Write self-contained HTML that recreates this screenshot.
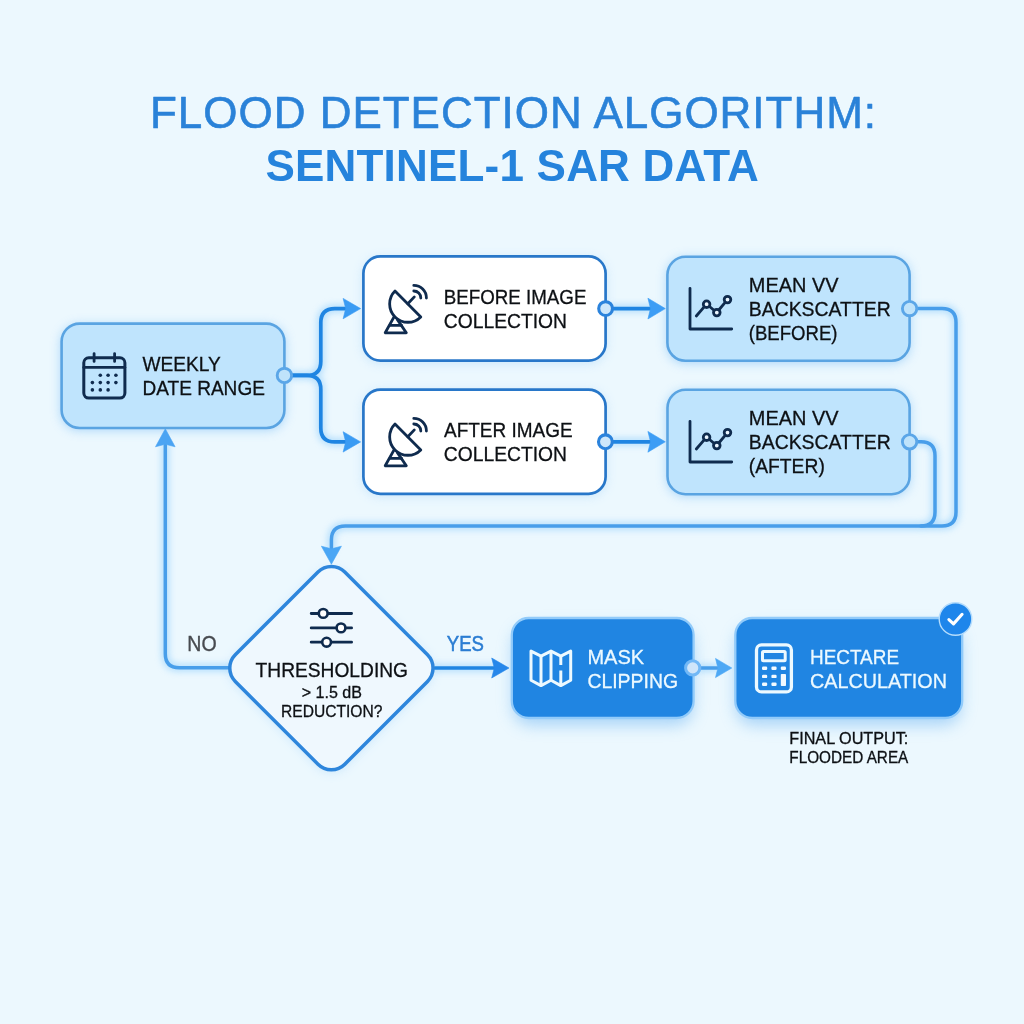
<!DOCTYPE html>
<html lang="en">
<head>
<meta charset="utf-8">
<title>Flood Detection Algorithm: Sentinel-1 SAR Data</title>
<style>
  html, body { margin: 0; padding: 0; }
  body { width: 1024px; height: 1024px; overflow: hidden; background: #ecf8fe;
         font-family: "Liberation Sans", sans-serif; }
  svg { display: block; position: absolute; left: 0; top: 0; }
  text { font-family: "Liberation Sans", sans-serif; }
  .t1 { font-size: 44px; fill: #2a82d8; stroke: #2a82d8; stroke-width: 0.6px; stroke-linejoin: round; }
  .t2 { font-size: 44px; font-weight: 700; fill: #2583dc; }
  .lbl { font-size: 20.6px; fill: #0d1014; stroke: #0d1014; stroke-width: 0.3px; }
  .lblw { font-size: 20.6px; fill: #ecf9ff; stroke: #ecf9ff; stroke-width: 0.3px; }
  .sm { font-size: 16px; fill: #0d1014; stroke: #0d1014; stroke-width: 0.3px; }
  .ico { fill: none; stroke: #0f2b4e; stroke-width: 2.8; stroke-linecap: round; stroke-linejoin: round; }
  .icow { fill: none; stroke: #ecf9ff; stroke-width: 3; stroke-linecap: round; stroke-linejoin: round; }
  .ln { fill: none; stroke: #1f85e2; stroke-width: 3.7; stroke-linecap: round; stroke-linejoin: round; }
  .ln2 { fill: none; stroke: #489eea; stroke-width: 3.5; stroke-linecap: round; stroke-linejoin: round; }
</style>
</head>
<body>
<svg width="1024" height="1024" viewBox="0 0 1024 1024">
  <defs>
    <filter id="glow" x="-20%" y="-20%" width="140%" height="140%">
      <feGaussianBlur stdDeviation="5.5"/>
      <feOffset dy="2"/>
    </filter>
    <filter id="glow3" x="-20%" y="-40%" width="140%" height="200%">
      <feGaussianBlur stdDeviation="8"/>
      <feOffset dy="7"/>
    </filter>
    <filter id="glow2" x="-20%" y="-20%" width="140%" height="140%" filterUnits="userSpaceOnUse">
      <feGaussianBlur stdDeviation="3.5"/>
    </filter>
  </defs>
  <rect width="1024" height="1024" fill="#ecf8fe"/>

  <!-- TITLE -->
  <g opacity="0.999">
  <text class="t1" x="150" y="127.5" textLength="726" lengthAdjust="spacing">FLOOD DETECTION ALGORITHM:</text>
  <text class="t2" x="265.4" y="181" textLength="493.4" lengthAdjust="spacing">SENTINEL-1 SAR DATA</text>
  </g>

  <!-- GLOWS -->
  <g filter="url(#glow)" opacity="0.75">
    <rect x="61" y="323" width="224" height="105" rx="18" fill="#8cc6f7"/>
    <rect x="667" y="256" width="243" height="105" rx="18" fill="#8cc6f7"/>
    <rect x="667" y="389" width="243" height="105" rx="18" fill="#8cc6f7"/>
  </g>
  <g filter="url(#glow)" opacity="0.38">
    <rect x="363" y="256" width="243" height="105" rx="17" fill="#8cc6f7"/>
    <rect x="363" y="389" width="243" height="105" rx="17" fill="#8cc6f7"/>
    <path d="M318.0 572.0 A19 19 0 0 1 344.8 572.0 L427.5 654.7 A19 19 0 0 1 427.5 681.5 L344.8 764.2 A19 19 0 0 1 318.0 764.2 L235.3 681.5 A19 19 0 0 1 235.3 654.7 Z" fill="#8cc6f7"/>
  </g>
  <g filter="url(#glow3)" opacity="0.55">
    <rect x="513" y="620" width="180" height="98" rx="18" fill="#6cb4f3"/>
    <rect x="736" y="620" width="225" height="98" rx="18" fill="#6cb4f3"/>
  </g>
  <g filter="url(#glow2)" opacity="0.55" fill="none" stroke="#7cc4fb" stroke-width="7" stroke-linecap="round" stroke-linejoin="round">
    <path d="M292 375.4 H306.8 Q320.8 375.4 320.8 361.4 V322.6 Q320.8 308.6 334.8 308.6 H346"/>
    <path d="M292 375.4 H306.8 Q320.8 375.4 320.8 389.4 V427.9 Q320.8 441.9 334.8 441.9 H346"/>
    <path d="M613 308.6 H651"/>
    <path d="M613 441.8 H651"/>
    <path d="M917 308.6 H942 Q956 308.6 956 322.6 V512.1 Q956 526.1 942 526.1 H345.4 Q331.4 526.1 331.4 540.1 V549"/>
    <path d="M917 441.8 H921 Q935 441.8 935 455.8 V512.1 Q935 526.1 921 526.1"/>
    <path d="M229.5 667.7 H179.3 Q165.3 667.7 165.3 653.7 V445"/>
    <path d="M435 668 H494"/>
    <path d="M700 668 H717"/>
  </g>

  <!-- CONNECTORS -->
  <path class="ln" d="M292 375.4 H306.8 Q320.8 375.4 320.8 361.4 V322.6 Q320.8 308.6 334.8 308.6 H346"/>
  <path class="ln" d="M292 375.4 H306.8 Q320.8 375.4 320.8 389.4 V427.9 Q320.8 441.9 334.8 441.9 H346"/>
  <path d="M343.1 298.4 L360.6 308.6 L343.1 318.8 L345.7 308.6 Z" fill="#3a9bf3" stroke="#3a9bf3" stroke-width="0.6" stroke-linejoin="round"/>
  <path d="M343.1 431.7 L360.6 441.9 L343.1 452.1 L345.7 441.9 Z" fill="#3a9bf3" stroke="#3a9bf3" stroke-width="0.6" stroke-linejoin="round"/>

  <path class="ln" d="M613 308.6 H651" stroke="#3a93e9"/>
  <path class="ln" d="M613 441.8 H651" stroke="#3a93e9"/>
  <path d="M647.9 298.2 L665.3 308.6 L647.9 319 L650.5 308.6 Z" fill="#3d9df5" stroke="#3d9df5" stroke-width="0.6" stroke-linejoin="round"/>
  <path d="M647.9 431.4 L665.3 441.8 L647.9 452.2 L650.5 441.8 Z" fill="#3d9df5" stroke="#3d9df5" stroke-width="0.6" stroke-linejoin="round"/>

  <path class="ln2" d="M917 308.6 H942 Q956 308.6 956 322.6 V512.1 Q956 526.1 942 526.1 H345.4 Q331.4 526.1 331.4 540.1 V549"/>
  <path class="ln2" d="M917 441.8 H921 Q935 441.8 935 455.8 V512.1 Q935 526.1 921 526.1"/>
  <path d="M321.4 546.2 L331.4 564.2 L341.4 546.2 L331.4 548.8 Z" fill="#4aa6f5" stroke="#4aa6f5" stroke-width="0.6" stroke-linejoin="round"/>

  <path class="ln2" d="M229.5 667.7 H179.3 Q165.3 667.7 165.3 653.7 V445"/>
  <path d="M155.5 446.8 L165.3 428.8 L175.1 446.8 L165.3 444.2 Z" fill="#4ba4f3" stroke="#4ba4f3" stroke-width="0.6" stroke-linejoin="round"/>

  <path class="ln" d="M435 668 H494"/>
  <path d="M491.7 658 L509 668 L491.7 678 L494.3 668 Z" fill="#2687ea" stroke="#2687ea" stroke-width="0.6" stroke-linejoin="round"/>

  <path class="ln2" d="M700 668 H717" stroke="#5fb0f7"/>
  <path d="M715.5 658.4 L731.8 668 L715.5 677.6 L717.9 668 Z" fill="#4da8f5" stroke="#4da8f5" stroke-width="0.6" stroke-linejoin="round"/>

  <!-- BOXES -->
  <rect x="61.6" y="323.6" width="222.8" height="104.4" rx="18" fill="#bfe4fd" stroke="#5aa4e2" stroke-width="2.6"/>
  <rect x="363.4" y="256.4" width="242.2" height="104.2" rx="17" fill="#ffffff" stroke="#2877c9" stroke-width="2.7"/>
  <rect x="363.4" y="389.6" width="242.2" height="104.2" rx="17" fill="#ffffff" stroke="#2877c9" stroke-width="2.7"/>
  <rect x="667.4" y="256.8" width="242.2" height="104" rx="18" fill="#bfe4fd" stroke="#5aa4e2" stroke-width="2.6"/>
  <rect x="667.5" y="389.8" width="242.1" height="104.4" rx="18" fill="#bfe4fd" stroke="#5aa4e2" stroke-width="2.6"/>
  <path d="M318.0 572.0 A19 19 0 0 1 344.8 572.0 L427.5 654.7 A19 19 0 0 1 427.5 681.5 L344.8 764.2 A19 19 0 0 1 318.0 764.2 L235.3 681.5 A19 19 0 0 1 235.3 654.7 Z"
        fill="#eff8fe" stroke="#2e86dc" stroke-width="3.5" stroke-linejoin="round"/>
  <rect x="511.8" y="618" width="181.8" height="100" rx="17" fill="#2085e2" stroke="#92cbfa" stroke-width="2.3"/>
  <rect x="735.3" y="618" width="226.9" height="100" rx="17" fill="#2085e2" stroke="#92cbfa" stroke-width="2.3"/>

  <!-- CONNECTOR DOTS -->
  <circle cx="284.4" cy="375.4" r="7.2" fill="#bfe3fb" stroke="#5ba6e8" stroke-width="2.9"/>
  <circle cx="605.6" cy="308.6" r="6.9" fill="#cde7fb" stroke="#2b83dc" stroke-width="3.1"/>
  <circle cx="605.4" cy="441.8" r="6.9" fill="#cde7fb" stroke="#2b83dc" stroke-width="3.1"/>
  <circle cx="909.6" cy="308.6" r="7.2" fill="#bfe3fb" stroke="#5ba6e8" stroke-width="2.9"/>
  <circle cx="909.6" cy="441.8" r="7.2" fill="#bfe3fb" stroke="#5ba6e8" stroke-width="2.9"/>
  <circle cx="692.7" cy="667.9" r="7.1" fill="#cfe5fa" stroke="#72b8f6" stroke-width="3"/>

  <!-- ICON: calendar -->
  <g class="ico">
    <rect x="83.8" y="357.8" width="41.1" height="40.3" rx="5" stroke-width="3"/>
    <path d="M83.8 367.4 H124.9"/>
    <path d="M94.1 353.6 V361.4 M114.6 353.6 V361.4"/>
  </g>
  <g fill="#0f2b4e">
    <circle cx="100.3" cy="375.3" r="1.8"/><circle cx="108.1" cy="375.3" r="1.8"/><circle cx="115.9" cy="375.3" r="1.8"/>
    <circle cx="92.4" cy="382.6" r="1.8"/><circle cx="100.3" cy="382.6" r="1.8"/><circle cx="108.1" cy="382.6" r="1.8"/><circle cx="115.9" cy="382.6" r="1.8"/>
    <circle cx="92.4" cy="389.9" r="1.8"/><circle cx="100.3" cy="389.9" r="1.8"/><circle cx="108.1" cy="389.9" r="1.8"/>
  </g>

  <!-- ICON: satellite dish (before) -->
  <g id="dish" class="ico">
    <path d="M395 291.1 L420.8 316.9 A18 18 0 0 1 395 291.1 Z"/>
    <path d="M407.8 303.7 L414.3 296.9"/>
    <path d="M413.8 291 A7 7 0 0 1 420.8 298"/>
    <path d="M413.8 285.4 A12.6 12.6 0 0 1 426.4 298"/>
    <path d="M394.2 316.6 L385.2 332.8 H406.3 L397.4 319.6"/>
    <path d="M390 325.3 H401.5"/>
  </g>
  <use href="#dish" transform="translate(0,133)"/>

  <!-- ICON: chart -->
  <g id="chart" class="ico">
    <path d="M690 288.3 V329 H731.7"/>
    <path d="M696.3 316 L704.4 306.6 M709.5 306.5 L714 310.3 M718.8 310 L725.4 302.2"/>
    <circle cx="706.6" cy="304.2" r="3.3" fill="#eaf5fe"/>
    <circle cx="716.8" cy="312.6" r="3.3" fill="#eaf5fe"/>
    <circle cx="727.5" cy="299.6" r="3.3" fill="#eaf5fe"/>
  </g>
  <use href="#chart" transform="translate(0,133)"/>

  <!-- ICON: sliders -->
  <g class="ico">
    <path d="M311.2 613.5 H351.6 M311.2 627.9 H351.6 M311.2 642.2 H351.6"/>
    <circle cx="323.2" cy="613.4" r="4.4" fill="#ffffff" stroke-width="2.6"/>
    <circle cx="341" cy="627.9" r="4.4" fill="#ffffff" stroke-width="2.6"/>
    <circle cx="326.6" cy="642.2" r="4.4" fill="#ffffff" stroke-width="2.6"/>
  </g>

  <!-- ICON: map -->
  <g class="icow" stroke-linejoin="miter">
    <path d="M531 651.1 L541 656.2 L551 651.1 L560.8 656.2 L570.7 651.1 V680.2 L560.8 685.6 L551 680.2 L541 685.6 L531 680.2 Z"/>
    <path d="M541 656.2 V685.6 M551 651.1 V680.2 M560.8 656.2 V665.1 M560.8 670.6 V685.6" stroke-linecap="butt"/>
  </g>

  <!-- ICON: calculator -->
  <g class="icow">
    <rect x="756.5" y="644.9" width="34.9" height="47" rx="5" stroke-width="3.3"/>
    <rect x="762.5" y="651.5" width="22.7" height="9.3" rx="1"/>
  </g>
  <g fill="#f2faff">
    <rect x="762" y="666.6" width="5.2" height="3.4" rx="1.2"/><rect x="771.4" y="666.6" width="5.2" height="3.4" rx="1.2"/><rect x="780.8" y="666.6" width="5.2" height="3.4" rx="1.2"/>
    <rect x="762" y="674.7" width="5.2" height="3.4" rx="1.2"/><rect x="771.4" y="674.7" width="5.2" height="3.4" rx="1.2"/>
    <rect x="762" y="682.6" width="5.2" height="3.4" rx="1.2"/><rect x="771.4" y="682.6" width="5.2" height="3.4" rx="1.2"/>
    <rect x="780.8" y="674" width="5.2" height="12" rx="0.8"/>
  </g>

  <!-- CHECK BADGE -->
  <circle cx="955.5" cy="619" r="16.3" fill="#1e86eb" stroke="#b4dcfc" stroke-width="1.4"/>
  <path d="M948.9 619.6 L953.5 623.9 L962.1 614.3" fill="none" stroke="#ffffff" stroke-width="3.1" stroke-linecap="round" stroke-linejoin="round"/>

  <!-- LABELS -->
  <g opacity="0.999">
  <text class="lbl" x="142.5" y="371" textLength="78.2" lengthAdjust="spacingAndGlyphs">WEEKLY</text>
  <text class="lbl" x="142.5" y="395" textLength="122.4" lengthAdjust="spacingAndGlyphs">DATE RANGE</text>

  <text class="lbl" x="443.8" y="304.2" textLength="142.6" lengthAdjust="spacingAndGlyphs">BEFORE IMAGE</text>
  <text class="lbl" x="443.8" y="327.8" textLength="123.2" lengthAdjust="spacingAndGlyphs">COLLECTION</text>
  <text class="lbl" x="444" y="437.4" textLength="128.6" lengthAdjust="spacingAndGlyphs">AFTER IMAGE</text>
  <text class="lbl" x="443.8" y="460.8" textLength="123.2" lengthAdjust="spacingAndGlyphs">COLLECTION</text>

  <text class="lbl" x="748.8" y="292.2" textLength="89.7" lengthAdjust="spacingAndGlyphs">MEAN VV</text>
  <text class="lbl" x="748.8" y="316" textLength="141.9" lengthAdjust="spacingAndGlyphs">BACKSCATTER</text>
  <text class="lbl" x="748.8" y="339.6" textLength="88.7" lengthAdjust="spacingAndGlyphs">(BEFORE)</text>
  <text class="lbl" x="748.8" y="425.2" textLength="89.7" lengthAdjust="spacingAndGlyphs">MEAN VV</text>
  <text class="lbl" x="748.8" y="449" textLength="141.9" lengthAdjust="spacingAndGlyphs">BACKSCATTER</text>
  <text class="lbl" x="748.8" y="472.8" textLength="76" lengthAdjust="spacingAndGlyphs">(AFTER)</text>

  <text class="lbl" x="255.6" y="676.6" textLength="152.4" lengthAdjust="spacingAndGlyphs">THRESHOLDING</text>
  <text class="sm" x="301.7" y="697.6" textLength="60.2" lengthAdjust="spacingAndGlyphs">&gt; 1.5 dB</text>
  <text class="sm" x="281.1" y="716.7" textLength="101.3" lengthAdjust="spacingAndGlyphs">REDUCTION?</text>

  <text class="lbl" x="187.3" y="650.7" textLength="29.3" lengthAdjust="spacingAndGlyphs" style="font-size:21.2px;fill:#484b50;stroke:#484b50;stroke-width:0.35px">NO</text>
  <text class="lbl" x="446.8" y="650.8" textLength="37.2" lengthAdjust="spacingAndGlyphs" style="font-size:21.2px;fill:#2b7dd3;stroke:#2b7dd3;stroke-width:0.5px">YES</text>

  <text class="lblw" x="587.4" y="663.8" textLength="56.7" lengthAdjust="spacingAndGlyphs">MASK</text>
  <text class="lblw" x="587.4" y="687.6" textLength="90.7" lengthAdjust="spacingAndGlyphs">CLIPPING</text>
  <text class="lblw" x="810" y="663.8" textLength="89" lengthAdjust="spacingAndGlyphs">HECTARE</text>
  <text class="lblw" x="810" y="687.8" textLength="137" lengthAdjust="spacingAndGlyphs">CALCULATION</text>

  <text class="sm" x="789.3" y="743.6" textLength="119" lengthAdjust="spacingAndGlyphs">FINAL OUTPUT:</text>
  <text class="sm" x="789.3" y="762.7" textLength="119" lengthAdjust="spacingAndGlyphs">FLOODED AREA</text>
  </g>
</svg>
</body>
</html>
